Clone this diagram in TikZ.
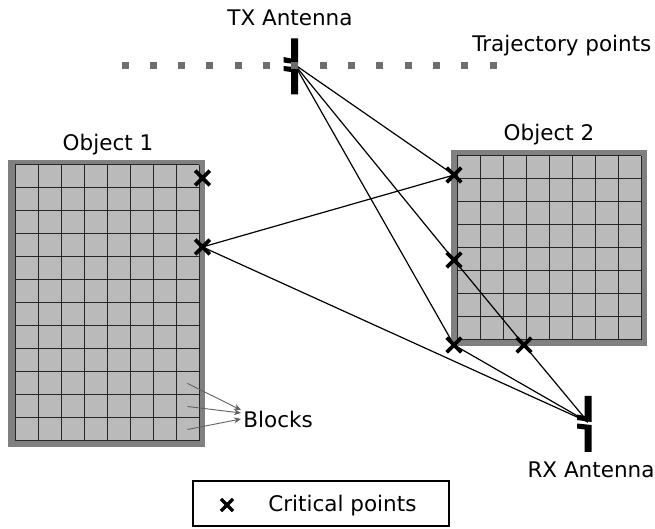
\documentclass[tikz,border=0pt]{standalone}
\usepackage{fontspec}
\setmainfont{DejaVu Sans}
\usetikzlibrary{shapes.misc,arrows.meta}

\begin{document}
\begin{tikzpicture}[x=0.5pt,y=-0.5pt,
every node/.style={font=\fontsize{10.75}{13}\selectfont, inner sep=0pt},
critical/.style={cross out, draw=black, line width=1.8pt, minimum size=5.5pt},
ray/.style={line width=0.6pt},
pointer/.style={draw=pointercolor, line width=0.45pt, -{Stealth[length=3.5pt,width=3pt]}},
gridline/.style={draw=black!85, line width=0.5pt},
legendbox/.style={draw, line width=1pt, minimum width=128pt, minimum height=22.5pt},
antenna/.pic={
    \fill (-3.5,-26) -- (3.5,-26) -- (3.5,0) -- (-11,-2) -- (-11,-7.5) -- (-3.5,-6) -- cycle;
    \fill (-11,1.5) -- (3.5,3) -- (3.5,30) -- (-3.5,30) -- (-3.5,7.5) -- (-11,6.5) -- cycle;
}]

% Define object colors
\colorlet{bordercolor}{black!50}
\colorlet{blockcolor}{black!27}
\colorlet{trajcolor}{black!57}
\colorlet{pointercolor}{black!62}

\useasboundingbox (0,0) rectangle (655,529);

% Object 1: 8 x 12 blocks
\fill[bordercolor] (8,160) rectangle (205,447);
\fill[blockcolor] (15,165) rectangle (199,441);
\foreach \i in {0,...,8} \draw[gridline] (15+23*\i,165) -- (15+23*\i,441);
\foreach \j in {0,...,12} \draw[gridline] (15,165+23*\j) -- (199,165+23*\j);
\node[anchor=base] (obj1) at (108,151) {Object 1};

% Object 2: 8 x 8 blocks
\fill[bordercolor] (451,150) rectangle (647,346);
\fill[blockcolor] (457,156) rectangle (641,340);
\foreach \i in {0,...,8} \draw[gridline] (457+23*\i,156) -- (457+23*\i,340);
\foreach \j in {0,...,8} \draw[gridline] (457,156+23*\j) -- (641,156+23*\j);
\node[anchor=base] (obj2) at (549,141) {Object 2};

% Antennas
\coordinate (tx) at (294.5,64.5);
\coordinate (rx) at (588,422);
\node[anchor=base] (txlabel) at (290,26) {TX Antenna};
\node[anchor=base] (rxlabel) at (591,478) {RX Antenna};

% Critical points
\node[critical] (c1a) at (202.5,178) {};
\node[critical] (c1b) at (202.5,247) {};
\node[critical] (c2a) at (454,175) {};
\node[critical] (c2b) at (454,260) {};
\node[critical] (c2c) at (454,345) {};
\node[critical] (c2d) at (524,345) {};

% Propagation paths
\draw[ray] (tx) -- (c2a.center) -- (c1b.center) -- (rx);
\draw[ray] (tx) -- (c2c.center) -- (rx);
\draw[ray] (tx) -- (c2b.center) -- (c2d.center) -- (rx);

\pic at (tx) {antenna};
\pic at (rx) {antenna};

% Trajectory points
\foreach \k in {0,...,13} \fill[trajcolor] (125+28.33*\k-3.5,62.5) rectangle ++(7,7);
\node[anchor=base west] (trajlabel) at (472,52) {Trajectory points};

% Blocks label
\coordinate (blk1) at (187.5,383.5);
\coordinate (blk2) at (187.5,406.5);
\coordinate (blk3) at (187.5,429.5);
\node[anchor=base west] (blocks) at (243,428) {Blocks};
\draw[pointer] (blk1) -- ([shift={(-2,-10)}]blocks.west);
\draw[pointer] (blk2) -- ([shift={(-2,-7)}]blocks.west);
\draw[pointer] (blk3) -- ([shift={(-2,-1)}]blocks.west);

% Legend
\node[legendbox] (legend) at (321,503.5) {};
\node[critical, line width=1.6pt, minimum size=4.5pt] (key) at (227,505) {};
\node[anchor=base west] (keylabel) at (268,512) {Critical points};
\end{tikzpicture}
\end{document}
